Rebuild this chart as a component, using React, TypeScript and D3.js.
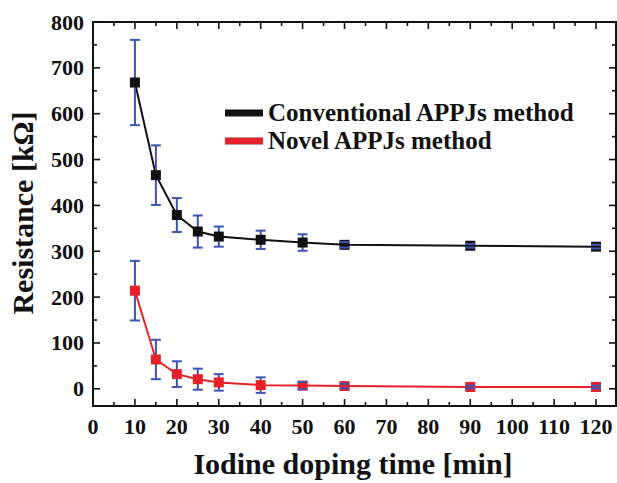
import React, { useEffect, useRef } from 'react'
import * as d3 from 'd3'

// doping time in minutes
const times = [10, 15, 20, 25, 30, 40, 50, 60, 90, 120]
const conventional = [668, 466, 379, 343, 332, 325, 319, 314, 312, 310]
const conventionalErr = [93, 65, 37, 35, 22, 20, 18, 6, 4, 4]
const novel = [214, 64, 32, 21, 14, 8, 7, 6, 4, 4]
const novelErr = [65, 43, 28, 23, 18, 17, 8, 5, 3, 3]

const xTicks = [0, 10, 20, 30, 40, 50, 60, 70, 80, 90, 100, 110, 120]
const yTicks = [0, 100, 200, 300, 400, 500, 600, 700, 800]

const seriesNames = ['Conventional APPJs method', 'Novel APPJs method']

const FONT = '"Liberation Serif", "Times New Roman", serif'

function App() {
    const ref = useRef<SVGSVGElement | null>(null)

    useEffect(() => {
        const svg = d3.select(ref.current)
        svg.selectAll('*').remove()

        const left = 93, right = 617, top = 22, bottom = 406

        const x = d3.scaleLinear().domain([0, 125]).range([left, right])
        const y = d3.scaleLinear().domain([-37.5, 800]).range([bottom, top])

        const g = svg.append('g')

        // frame
        g.append('rect')
            .attr('x', left).attr('y', top)
            .attr('width', right - 1 - left).attr('height', bottom - top)
            .attr('fill', 'none').attr('stroke', '#111').attr('stroke-width', 2)

        // ticks, all pointing inward (bottom/top/left/right)
        const xMinor = d3.range(5, 125, 10)
        const yMinor = d3.range(50, 800, 100)
        const tickGroup = g.append('g').attr('stroke', '#111').attr('stroke-width', 1.6)
        xTicks.forEach(t => {
            if (t === 0) return
            tickGroup.append('line').attr('x1', x(t)).attr('x2', x(t)).attr('y1', bottom).attr('y2', bottom - 7)
            tickGroup.append('line').attr('x1', x(t)).attr('x2', x(t)).attr('y1', top).attr('y2', top + 7)
        })
        xMinor.forEach(t => {
            tickGroup.append('line').attr('x1', x(t)).attr('x2', x(t)).attr('y1', bottom).attr('y2', bottom - 4)
            tickGroup.append('line').attr('x1', x(t)).attr('x2', x(t)).attr('y1', top).attr('y2', top + 4)
        })
        yTicks.forEach(t => {
            tickGroup.append('line').attr('x1', left).attr('x2', left + 7).attr('y1', y(t)).attr('y2', y(t))
            tickGroup.append('line').attr('x1', right - 1).attr('x2', right - 8).attr('y1', y(t)).attr('y2', y(t))
        })
        yMinor.forEach(t => {
            tickGroup.append('line').attr('x1', left).attr('x2', left + 4).attr('y1', y(t)).attr('y2', y(t))
            tickGroup.append('line').attr('x1', right - 1).attr('x2', right - 5).attr('y1', y(t)).attr('y2', y(t))
        })

        // tick labels
        g.append('g').selectAll('text')
            .data(xTicks).enter().append('text')
            .attr('x', d => x(d)).attr('y', 434)
            .attr('text-anchor', 'middle')
            .attr('font-family', FONT).attr('font-weight', 'bold').attr('font-size', 22)
            .attr('fill', '#111')
            .text(d => d)

        g.append('g').selectAll('text')
            .data(yTicks).enter().append('text')
            .attr('x', 84).attr('y', d => y(d) + 7.5)
            .attr('text-anchor', 'end')
            .attr('font-family', FONT).attr('font-weight', 'bold').attr('font-size', 22)
            .attr('fill', '#111')
            .text(d => d)

        // axis titles
        g.append('text')
            .attr('x', 353).attr('y', 474)
            .attr('text-anchor', 'middle')
            .attr('font-family', FONT).attr('font-weight', 'bold').attr('font-size', 30)
            .attr('fill', '#111')
            .text('Iodine doping time [min]')

        g.append('text')
            .attr('transform', 'translate(33,213) rotate(-90)')
            .attr('text-anchor', 'middle')
            .attr('font-family', FONT).attr('font-weight', 'bold').attr('font-size', 30)
            .attr('fill', '#111')
            .text('Resistance [k\u03A9]')

        const line = d3.line<number>()
            .x((d, i) => x(times[i]))
            .y(d => y(d))

        const errColor = '#3c55b4'
        const series = [
            { values: conventional, err: conventionalErr, color: '#111111' },
            { values: novel, err: novelErr, color: '#e8202a' },
        ]

        series.forEach(s => {
            g.append('path')
                .datum(s.values)
                .attr('d', line)
                .attr('fill', 'none')
                .attr('stroke', s.color)
                .attr('stroke-width', 2)

            // error bar stems behind the markers
            s.values.forEach((v, i) => {
                g.append('line')
                    .attr('x1', x(times[i])).attr('x2', x(times[i]))
                    .attr('y1', y(v - s.err[i])).attr('y2', y(v + s.err[i]))
                    .attr('stroke', errColor).attr('stroke-width', 2)
            })

            g.append('g').selectAll('rect')
                .data(s.values).enter().append('rect')
                .attr('x', (d, i) => x(times[i]) - 5)
                .attr('y', d => y(d) - 5)
                .attr('width', 10).attr('height', 10)
                .attr('fill', s.color)

            // caps on top
            s.values.forEach((v, i) => {
                [v - s.err[i], v + s.err[i]].forEach(e => {
                    g.append('line')
                        .attr('x1', x(times[i]) - 5).attr('x2', x(times[i]) + 5)
                        .attr('y1', y(e)).attr('y2', y(e))
                        .attr('stroke', errColor).attr('stroke-width', 2)
                })
            })
        })

        // legend
        const legend = g.append('g')
        seriesNames.forEach((name, i) => {
            const ly = 113 + i * 28
            legend.append('rect')
                .attr('x', 225).attr('y', ly - 3.5)
                .attr('width', 38).attr('height', 7)
                .attr('fill', series[i].color)
                .attr('stroke', i === 1 ? '#9a9a9a' : 'none').attr('stroke-width', 0.5)
            legend.append('text')
                .attr('x', 268).attr('y', ly + 8)
                .attr('font-family', FONT).attr('font-weight', 'bold').attr('font-size', 25)
                .attr('fill', '#111')
                .text(name)
        })
    }, [])

    return (
        <div>
            <style>{'body{margin:0}'}</style>
            <svg ref={ref} width={617} height={483} style={{ display: 'block', background: '#fff' }}></svg>
        </div>
    )
}

export default App
